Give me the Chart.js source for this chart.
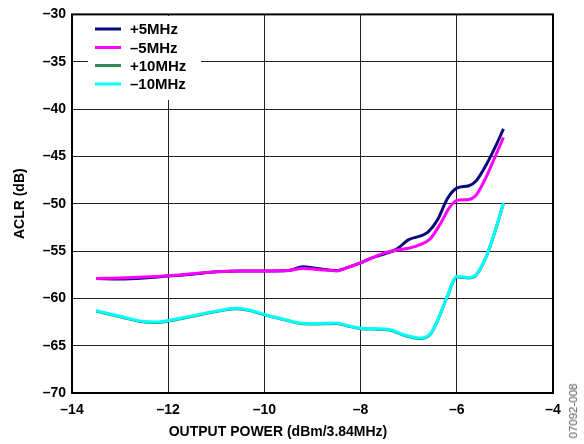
<!DOCTYPE html>
<html>
<head>
<meta charset="utf-8">
<script src="https://cdn.jsdelivr.net/npm/chart.js@4.4.1/dist/chart.umd.min.js"></script>
<style>
html,body{margin:0;padding:0;background:#fff;}
#wrap{position:relative;width:584px;height:444px;}
#code{position:absolute;left:573px;top:411px;transform:translate(-50%,-50%) rotate(-90deg);font:11.5px "Liberation Sans",Arial,sans-serif;color:#555;white-space:nowrap;}
</style>
</head>
<body>
<div id="wrap">
<canvas id="c" width="584" height="444"></canvas>
<div id="code">07092-008</div>
</div>
<script>
// Data
const seriesLabels = ['+5MHz', '–5MHz', '+10MHz', '–10MHz'];
const seriesColors = ['#0a0a7a', '#ff00ff', '#2e8b57', '#00ffff'];

const plus5X  = [-13.5,-13,-12.5,-12,-11.5,-11,-10.5,-10,-9.5,-9.2,-8.9,-8.5,-8.25,-8,-7.75,-7.5,-7.25,-7,-6.75,-6.6,-6.4,-6.2,-6,-5.75,-5.6,-5.4,-5.2,-5.03];
const plus5Y  = [-57.9,-57.95,-57.85,-57.65,-57.45,-57.2,-57.1,-57.1,-57.05,-56.65,-56.85,-57.05,-56.7,-56.25,-55.7,-55.3,-54.8,-53.8,-53.4,-53.0,-51.7,-49.5,-48.35,-48.1,-47.6,-46.0,-44.0,-42.1];

const minus5X = [-13.5,-13,-12.5,-12,-11.5,-11,-10.5,-10,-9.5,-9.2,-8.9,-8.5,-8.25,-8,-7.75,-7.5,-7.25,-7,-6.75,-6.55,-6.35,-6.15,-6,-5.75,-5.6,-5.4,-5.2,-5.03];
const minus5Y = [-57.9,-57.85,-57.75,-57.6,-57.4,-57.2,-57.1,-57.1,-57.05,-56.85,-56.95,-57.1,-56.7,-56.25,-55.7,-55.2,-54.9,-54.7,-54.3,-53.7,-52.2,-50.4,-49.65,-49.55,-49.1,-47.3,-45.0,-43.0];

const plus10X = [-13.5,-13,-12.5,-12.2,-12,-11.5,-11,-10.6,-10.3,-10,-9.6,-9.25,-9,-8.5,-8.25,-8,-7.75,-7.4,-7.1,-6.75,-6.55,-6.4,-6.2,-6,-5.75,-5.6,-5.4,-5.2,-5.03];
const plus10Y = [-61.35,-61.95,-62.5,-62.55,-62.4,-61.9,-61.4,-61.1,-61.3,-61.75,-62.25,-62.65,-62.7,-62.65,-62.95,-63.2,-63.25,-63.35,-63.9,-64.25,-63.8,-62.35,-59.85,-57.75,-57.85,-57.55,-55.75,-52.85,-49.95];

const minus10X = [-13.5,-13,-12.5,-12.2,-12,-11.5,-11,-10.6,-10.3,-10,-9.6,-9.25,-9,-8.5,-8.25,-8,-7.75,-7.4,-7.1,-6.75,-6.55,-6.4,-6.2,-6,-5.75,-5.6,-5.4,-5.2,-5.03];
const minus10Y = [-61.3,-61.9,-62.45,-62.5,-62.35,-61.85,-61.35,-61.05,-61.25,-61.7,-62.2,-62.6,-62.65,-62.6,-62.9,-63.15,-63.2,-63.3,-63.85,-64.2,-63.75,-62.3,-59.8,-57.7,-57.8,-57.5,-55.7,-52.8,-49.9];

const xMin = -14, xMax = -4, xStep = 2;
const yMin = -70, yMax = -30, yStep = 5;
const xTitle = 'OUTPUT POWER (dBm/3.84MHz)';
const yTitle = 'ACLR (dB)';

const pts = (xs, ys) => xs.map((x, i) => ({x, y: ys[i]}));
const allX = [plus5X, minus5X, plus10X, minus10X];
const allY = [plus5Y, minus5Y, plus10Y, minus10Y];

// draw order: -10MHz on top of +10MHz, -5MHz on top of +5MHz
const drawOrder = [3, 2, 1, 0];
const datasets = drawOrder.map(i => ({
  label: seriesLabels[i],
  data: pts(allX[i], allY[i]),
  borderColor: seriesColors[i],
  backgroundColor: seriesColors[i],
  borderWidth: 3,
  pointRadius: 0,
  cubicInterpolationMode: 'monotone',
  fill: false
}));

const FONT = '"Liberation Sans", Arial, sans-serif';
const dash = v => (v < 0 ? '–' + Math.abs(v) : String(v));

const framePlugin = {
  id: 'frame',
  beforeDatasetsDraw(chart) {
    const a = chart.chartArea, ctx = chart.ctx;
    ctx.save();
    ctx.strokeStyle = '#000';
    ctx.lineWidth = 2;
    ctx.strokeRect(a.left, a.top, a.right - a.left, a.bottom - a.top);
    ctx.restore();
  },
  afterDatasetsDraw(chart) {
    const ctx = chart.ctx;
    ctx.save();
    // legend box
    ctx.fillStyle = '#fff';
    ctx.fillRect(88, 16, 113, 84);
    ctx.font = 'bold 15px ' + FONT;
    ctx.textBaseline = 'middle';
    ctx.textAlign = 'left';
    const ys = [29, 47.5, 65.5, 84];
    for (let i = 0; i < 4; i++) {
      ctx.strokeStyle = seriesColors[i];
      ctx.lineWidth = 3;
      ctx.beginPath();
      ctx.moveTo(95, ys[i]);
      ctx.lineTo(121, ys[i]);
      ctx.stroke();
      ctx.fillStyle = '#000';
      ctx.fillText(seriesLabels[i], 130, ys[i] + 1);
    }
    // x axis title
    ctx.font = 'bold 14px ' + FONT;
    ctx.textAlign = 'center';
    ctx.fillText(xTitle, 278, 432);
    ctx.restore();
  }
};

new Chart(document.getElementById('c'), {
  type: 'line',
  data: { datasets },
  options: {
    responsive: false,
    devicePixelRatio: 1,
    animation: false,
    layout: { padding: { top: 10, right: 31, left: 0, bottom: 0 } },
    plugins: { legend: { display: false }, tooltip: { enabled: false } },
    scales: {
      x: {
        type: 'linear', min: xMin, max: xMax,
        afterFit: s => { s.height = 51; },
        grid: { color: '#222', lineWidth: 1, drawTicks: false },
        border: { display: false },
        ticks: {
          stepSize: xStep, padding: 9, color: '#000',
          font: { family: FONT, size: 14, weight: 'bold' },
          callback: v => dash(v), maxRotation: 0
        }
      },
      y: {
        type: 'linear', min: yMin, max: yMax,
        afterFit: s => { s.width = 72; },
        grid: { color: '#222', lineWidth: 1, drawTicks: false },
        border: { display: false },
        title: {
          display: true, text: yTitle, color: '#000',
          font: { family: FONT, size: 14, weight: 'bold' },
          padding: { top: 12, bottom: 0 }
        },
        ticks: {
          stepSize: yStep, padding: 6, color: '#000',
          font: { family: FONT, size: 14, weight: 'bold' },
          callback: v => dash(v)
        }
      }
    }
  },
  plugins: [framePlugin]
});
</script>
</body>
</html>
